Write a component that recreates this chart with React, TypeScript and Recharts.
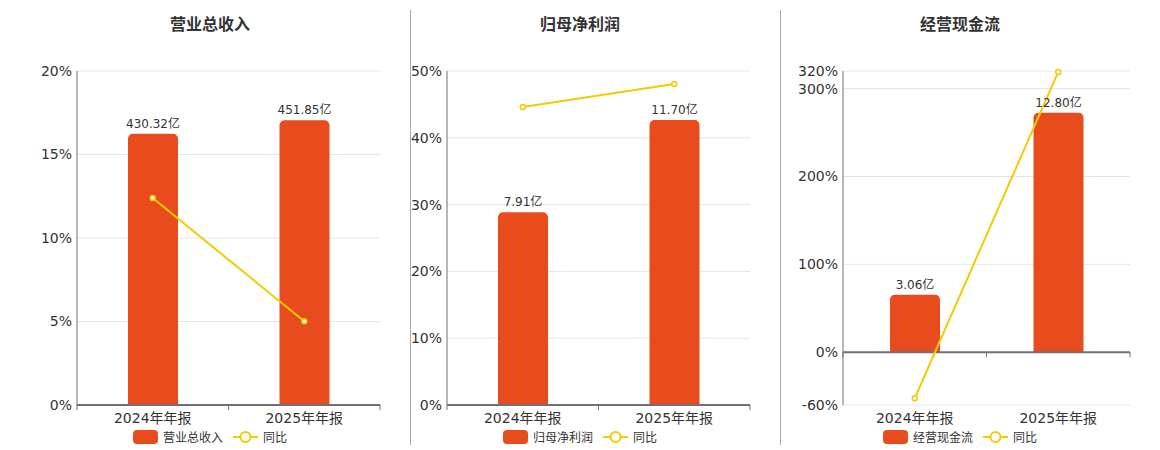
import React from "react";
import {
  ComposedChart,
  Bar,
  Line,
  XAxis,
  YAxis,
  CartesianGrid,
  ReferenceLine,
  LabelList,
} from "recharts";

// ---------------------------------------------------------------------------
// Data
// ---------------------------------------------------------------------------

const categories = ["2024年年报", "2025年年报"];

const revenueValues = [430.32, 451.85];
const revenueYoY = [12.39, 5.01];

const profitValues = [7.91, 11.7];
const profitYoY = [44.61, 48.05];

const cashValues = [3.06, 12.8];
const cashYoY = [-52.3, 318.9];

const revenueTicks = [0, 5, 10, 15, 20];
const profitTicks = [0, 10, 20, 30, 40, 50];
const cashTicks = [-60, 0, 100, 200, 300, 320];

// ---------------------------------------------------------------------------
// Style constants
// ---------------------------------------------------------------------------

const BAR_COLOR = "#e84c1d";
const LINE_COLOR = "#f2cb05";
const AXIS_COLOR = "#6e7079";
const GRID_COLOR = "#e0e6f1";
const TEXT_COLOR = "#333";
const FONT = "'DejaVu Sans', 'Noto Sans CJK SC', sans-serif";

interface PanelProps {
  title: string;
  seriesName: string;
  values: number[];
  yoy: number[];
  ticks: number[];
  barDomain: [number, number];
  left: number;
  width: number;
  yAxisWidth: number;
  center: number;
}

// axis line drawn at zero with ECharts-like boundary ticks
function ZeroAxis(props: any) {
  const { x1, y1, x2 } = props;
  const mid = (x1 + x2) / 2;
  return (
    <g>
      <line x1={x1} y1={y1} x2={x2} y2={y1} stroke={AXIS_COLOR} strokeWidth={2} />
      {[x1, mid, x2].map((x, i) => (
        <line key={i} x1={x} y1={y1} x2={x} y2={y1 + 5} stroke={AXIS_COLOR} strokeWidth={1} />
      ))}
    </g>
  );
}

function Panel(p: PanelProps) {
  const data = categories.map((c, i) => ({
    name: c,
    value: p.values[i],
    yoy: p.yoy[i],
  }));

  return (
    <>
      <div style={{ ...styles.title, left: p.center - 100 }}>{p.title}</div>
      <div style={{ position: "absolute", left: p.left, top: 0 }}>
        <ComposedChart
          width={p.width}
          height={450}
          data={data}
          margin={{ top: 71, right: 20, bottom: 25, left: 0 }}
        >
          <CartesianGrid vertical={false} stroke={GRID_COLOR} yAxisId="pct" />
          <XAxis
            dataKey="name"
            axisLine={false}
            tickLine={false}
            tickSize={0}
            tickMargin={8}
            height={20}
            interval={0}
            tick={{ fontSize: 14, fill: TEXT_COLOR, fontFamily: FONT }}
          />
          <YAxis
            yAxisId="pct"
            width={p.yAxisWidth}
            domain={[p.ticks[0], p.ticks[p.ticks.length - 1]]}
            ticks={p.ticks}
            interval={0}
            tickLine={false}
            tickSize={0}
            tickMargin={5}
            axisLine={{ stroke: AXIS_COLOR }}
            tickFormatter={(v: number) => `${v}%`}
            tick={{ fontSize: 14, fill: TEXT_COLOR, fontFamily: FONT }}
          />
          <YAxis yAxisId="bar" orientation="right" hide domain={p.barDomain} />
          <Bar
            yAxisId="bar"
            dataKey="value"
            fill={BAR_COLOR}
            barSize={50}
            radius={[5, 5, 0, 0]}
            isAnimationActive={false}
          >
            <LabelList
              dataKey="value"
              position="top"
              offset={6}
              formatter={(v: number) => `${v.toFixed(2)}亿`}
              style={{ fontSize: 12, fill: TEXT_COLOR, fontFamily: FONT }}
            />
          </Bar>
          <ReferenceLine yAxisId="pct" y={0} shape={ZeroAxis} />
          <Line
            yAxisId="pct"
            dataKey="yoy"
            stroke={LINE_COLOR}
            strokeWidth={2}
            dot={{ r: 2.5, fill: "#fff", stroke: LINE_COLOR, strokeWidth: 1.5 }}
            isAnimationActive={false}
          />
        </ComposedChart>
      </div>
      <div style={{ ...styles.legend, left: p.center - 100 }}>
        <span style={styles.legendRect} />
        <span style={{ marginRight: 10 }}>{p.seriesName}</span>
        <svg width={25} height={14} style={{ marginRight: 5 }}>
          <line x1={0} y1={7} x2={25} y2={7} stroke={LINE_COLOR} strokeWidth={2} />
          <circle cx={12.5} cy={7} r={5} fill="#fff" stroke={LINE_COLOR} strokeWidth={2} />
        </svg>
        <span>同比</span>
      </div>
    </>
  );
}

export default function App() {
  return (
    <div style={styles.page}>
      <Panel
        title="营业总收入"
        seriesName="营业总收入"
        values={revenueValues}
        yoy={revenueYoY}
        ticks={revenueTicks}
        barDomain={[0, 530]}
        left={0}
        width={400}
        yAxisWidth={77}
        center={210}
      />
      <div style={{ ...styles.separator, left: 410 }} />
      <Panel
        title="归母净利润"
        seriesName="归母净利润"
        values={profitValues}
        yoy={profitYoY}
        ticks={profitTicks}
        barDomain={[0, 13.71]}
        left={400}
        width={370}
        yAxisWidth={47}
        center={580}
      />
      <div style={{ ...styles.separator, left: 780 }} />
      <Panel
        title="经营现金流"
        seriesName="经营现金流"
        values={cashValues}
        yoy={cashYoY}
        ticks={cashTicks}
        barDomain={[-2.84, 15.04]}
        left={780}
        width={370}
        yAxisWidth={63}
        center={960}
      />
    </div>
  );
}

const styles = {
  page: {
    position: "absolute",
    left: 0,
    top: 0,
    width: 1160,
    height: 450,
    background: "#fff",
    fontFamily: FONT,
  } as React.CSSProperties,

  title: {
    position: "absolute",
    top: 11,
    width: 200,
    textAlign: "center",
    fontSize: 16,
    fontWeight: 700,
    color: TEXT_COLOR,
  } as React.CSSProperties,

  separator: {
    position: "absolute",
    top: 10,
    width: 1,
    height: 435,
    background: "#aaa",
  } as React.CSSProperties,

  legend: {
    position: "absolute",
    top: 428,
    width: 200,
    display: "flex",
    justifyContent: "center",
    alignItems: "center",
    fontSize: 12,
    color: TEXT_COLOR,
  } as React.CSSProperties,

  legendRect: {
    display: "inline-block",
    width: 25,
    height: 14,
    borderRadius: 4,
    background: BAR_COLOR,
    marginRight: 5,
  } as React.CSSProperties,
};
